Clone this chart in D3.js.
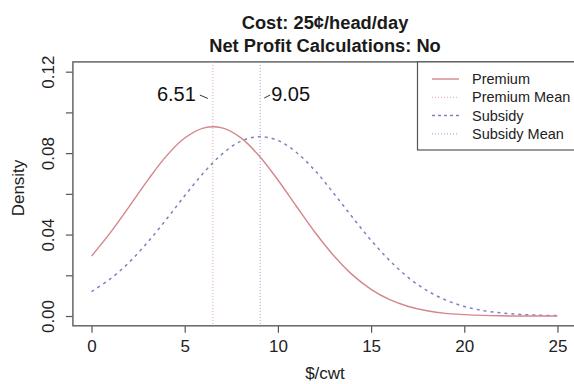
<!DOCTYPE html>
<html>
<head>
<meta charset="utf-8">
<script src="https://cdn.jsdelivr.net/npm/d3@7"></script>
<style>
  body { margin: 0; background: #fff; }
  svg { font-family: "Liberation Sans", Arial, sans-serif; }
</style>
</head>
<body>
<div id="chart"></div>
<script>
// values
var x_vals = [0, 1, 2, 3, 4, 5, 6, 7, 8, 9, 10, 11, 12, 13, 14, 15, 16, 17, 18, 19, 20, 21, 22, 23, 24, 25];
var premium = [0.0294, 0.0408, 0.0535, 0.0665, 0.0784, 0.0874, 0.0923, 0.0924, 0.0876, 0.0786, 0.0668, 0.0538, 0.0410,
	0.0296, 0.0202, 0.0131, 0.0080, 0.0047, 0.0026, 0.0013, 0.0007, 0.0003, 0.0001, 0.0000, 0.0000, 0.0000];
var subsidy = [0.0120, 0.0182, 0.0262, 0.0361, 0.0473, 0.0591, 0.0702, 0.0795, 0.0858, 0.0881, 0.0862, 0.0803, 0.0713,
	0.0602, 0.0485, 0.0372, 0.0272, 0.0189, 0.0125, 0.0079, 0.0047, 0.0027, 0.0015, 0.0008, 0.0004, 0.0002];
var means = [6.51, 9.05];
var mean_labels = ["6.51", "9.05"];
var x_ticks = [0, 5, 10, 15, 20, 25];
var y_ticks = [0, 0.02, 0.04, 0.06, 0.08, 0.10, 0.12];
var y_labels = ["0.00", "", "0.04", "", "0.08", "", "0.12"];
var legend_names = ["Premium", "Premium Mean", "Subsidy", "Subsidy Mean"];
var titles = ["Cost: 25\u00a2/head/day", "Net Profit Calculations: No"];

var width = 574, height = 384;
var red = "#d4868c", blue = "#7c82c0";
var red_mean = "#dba0a8", blue_mean = "#9a9cd0";

var svg = d3.select("#chart").append("svg")
	.attr("width", width)
	.attr("height", height);

var x = d3.scaleLinear().domain([-1, 26]).range([72.9, 576.1]);
var y = d3.scaleLinear().domain([-0.0048, 0.1248]).range([325.8, 61.9]);

// titles
svg.selectAll(".title").data(titles).enter().append("text")
	.attr("x", 325)
	.attr("y", function(d, i) { return 29 + i * 23; })
	.attr("text-anchor", "middle")
	.attr("font-weight", "bold")
	.attr("font-size", 18.3)
	.attr("fill", "#1a1a1a")
	.text(function(d) { return d; });

// axes
var xAxis = svg.append("g")
	.attr("transform", "translate(0," + 325.8 + ")")
	.call(d3.axisBottom(x).tickValues(x_ticks).tickSize(7).tickPadding(5).tickFormat(d3.format("d")));
var yAxis = svg.append("g")
	.attr("transform", "translate(72.9,0)")
	.call(d3.axisLeft(y).tickValues(y_ticks).tickSize(7).tickFormat(function(d, i) { return y_labels[i]; }));

[xAxis, yAxis].forEach(function(a) {
	a.select(".domain").remove();
	a.selectAll("line").attr("stroke", "#555").attr("stroke-width", 1.2);
	a.selectAll("text").attr("fill", "#222").attr("font-size", 17).attr("font-family", "Liberation Sans, Arial, sans-serif");
});
xAxis.selectAll("text").attr("dy", "0.71em").attr("y", 14);
yAxis.selectAll(".tick text")
	.attr("text-anchor", "middle")
	.attr("x", 0).attr("y", 0).attr("dy", "0.35em")
	.attr("transform", "translate(-25,0) rotate(-90)");

// plot box
svg.append("rect")
	.attr("x", 72.9).attr("y", 61.9)
	.attr("width", 576.1 - 72.9).attr("height", 325.8 - 61.9)
	.attr("fill", "none")
	.attr("stroke", "#666")
	.attr("stroke-width", 1.5);

// axis titles
svg.append("text")
	.attr("x", 325).attr("y", 379)
	.attr("text-anchor", "middle")
	.attr("font-size", 17)
	.attr("fill", "#222")
	.text("$/cwt");
svg.append("text")
	.attr("transform", "translate(24,188) rotate(-90)")
	.attr("text-anchor", "middle")
	.attr("font-size", 17)
	.attr("fill", "#222")
	.text("Density");

// mean lines
svg.selectAll(".mean").data(means).enter().append("line")
	.attr("x1", function(d) { return x(d); })
	.attr("x2", function(d) { return x(d); })
	.attr("y1", 61.9).attr("y2", 325.8)
	.attr("stroke", function(d, i) { return i == 0 ? red_mean : blue_mean; })
	.attr("stroke-width", 1)
	.attr("stroke-dasharray", "1,2");

// density curves
var line = d3.line().curve(d3.curveCatmullRom);
svg.append("path")
	.attr("d", line(x_vals.map(function(d, i) { return [x(d), y(subsidy[i])]; })))
	.attr("fill", "none")
	.attr("stroke", blue)
	.attr("stroke-width", 1.5)
	.attr("stroke-dasharray", "3,4");
svg.append("path")
	.attr("d", line(x_vals.map(function(d, i) { return [x(d), y(premium[i])]; })))
	.attr("fill", "none")
	.attr("stroke", red)
	.attr("stroke-width", 1.4);

// mean annotations
svg.append("text")
	.attr("x", x(means[0]) - 17).attr("y", 101)
	.attr("text-anchor", "end")
	.attr("font-size", 20)
	.attr("fill", "#111")
	.text(mean_labels[0]);
svg.append("line")
	.attr("x1", x(means[0]) - 13).attr("y1", 95)
	.attr("x2", x(means[0]) - 5).attr("y2", 98.5)
	.attr("stroke", "#333").attr("stroke-width", 1);
svg.append("text")
	.attr("x", x(means[1]) + 11).attr("y", 101)
	.attr("text-anchor", "start")
	.attr("font-size", 20)
	.attr("fill", "#111")
	.text(mean_labels[1]);
svg.append("line")
	.attr("x1", x(means[1]) + 4).attr("y1", 98)
	.attr("x2", x(means[1]) + 10).attr("y2", 95)
	.attr("stroke", "#333").attr("stroke-width", 1);

// legend
var legend = svg.append("g");
legend.append("rect")
	.attr("x", 417.5).attr("y", 61.9)
	.attr("width", 160).attr("height", 150 - 61.9)
	.attr("fill", "#fff")
	.attr("stroke", "#555")
	.attr("stroke-width", 1.2);
var leg_color = [red, red_mean, blue, blue_mean];
var leg_dash = [null, "1,2", "3,3", "1,2"];
var leg_width = [1.4, 1, 1.5, 1];
legend_names.forEach(function(name, i) {
	var yy = 79 + i * 18.3;
	legend.append("line")
		.attr("x1", 432).attr("x2", 459)
		.attr("y1", yy).attr("y2", yy)
		.attr("stroke", leg_color[i])
		.attr("stroke-width", leg_width[i])
		.attr("stroke-dasharray", leg_dash[i]);
	legend.append("text")
		.attr("x", 472).attr("y", yy)
		.attr("dy", "0.35em")
		.attr("font-size", 14.5)
		.attr("fill", "#222")
		.text(name);
});
</script>
</body>
</html>
